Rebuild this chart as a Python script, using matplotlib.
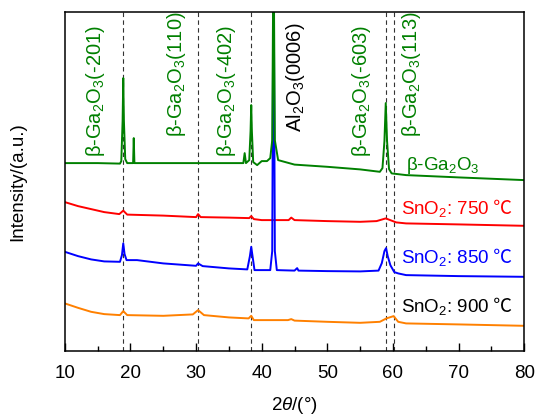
"""
XRD patterns: beta-Ga2O3 reference and SnO2 films annealed at 750/850/900 C
output: out.png
"""
import matplotlib
matplotlib.use("Agg")
import matplotlib.pyplot as plt

plt.rcParams["font.family"] = ["Liberation Sans", "DejaVu Sans"]
plt.rcParams["mathtext.fontset"] = "custom"
plt.rcParams["mathtext.rm"] = "Liberation Sans"
plt.rcParams["mathtext.it"] = "Liberation Sans:italic"

# 2theta / intensity points (arbitrary units, stacked)
x_ga = [10, 12, 15, 18.4, 18.6, 18.8, 18.9, 19.0, 19.2, 19.5, 20.4, 20.5, 20.6, 25, 30, 35,
        37.2, 37.4, 37.6, 38.1, 38.3, 38.4, 38.5, 38.7, 39.3, 40.0, 40.8, 41.3, 41.6, 41.8,
        42.0, 42.5, 45, 50, 55, 58.0, 58.4, 58.7, 58.9, 59.1, 59.4, 59.8, 62, 70, 80]
y_ga = [188, 188, 188, 187.5, 190, 230, 273, 230, 192, 188, 188, 213, 188, 188, 188, 188,
        188, 198, 188, 191, 220, 246, 220, 189, 186, 190, 190, 193, 211, 420,
        211, 191, 186.5, 184.3, 181.7, 179.3, 183, 210, 248, 210, 182, 177.7, 176, 173.7, 171]

x_750 = [10, 12, 14, 16, 18.3, 18.9, 19.5, 25, 30, 30.3, 30.7, 35, 38.1, 38.4, 38.8, 40,
         42, 44.1, 44.5, 45.0, 50, 55, 57.5, 58.9, 60.5, 62, 70, 80]
y_750 = [149, 145, 142, 139, 137, 140.5, 136.5, 135.5, 134, 137, 134, 133.5, 133, 135, 132, 131,
         131, 131, 133.5, 131, 130, 129.3, 130, 132.7, 128.7, 127.7, 126.7, 125.3]

x_850 = [10, 12, 14, 16, 18.4, 18.7, 18.9, 19.1, 19.4, 21, 25, 30, 30.3, 31, 35, 37.8,
         38.2, 38.4, 38.6, 38.9, 41.3, 41.6, 41.8, 42.0, 42.3, 45, 45.4, 45.6, 50, 55,
         57.8, 58.3, 58.7, 58.95, 59.2, 59.6, 60.2, 60.8, 62, 70, 80]
y_850 = [99.3, 95, 91.7, 89.7, 89.3, 96, 107.7, 97, 91, 91, 87.7, 85.3, 87.7, 85, 82.7, 81.7,
         95, 104.3, 95, 81, 81, 100, 420, 100, 81, 80.5, 83, 80.5, 80, 79.7,
         80.5, 88, 100, 103, 95, 86, 79, 77.7, 76, 75, 74.3]

x_900 = [10, 12, 14, 16, 18.4, 18.9, 19.5, 25, 29.5, 30.3, 31.2, 35, 38, 38.4, 38.8, 44,
         44.5, 45, 50, 55, 58, 59, 60.1, 60.8, 62, 70, 80]
y_900 = [47.7, 43.3, 39.3, 37, 36, 40, 36, 35.3, 36.7, 41, 36, 33.7, 32.7, 35.3, 31, 31,
         32, 30.5, 29.3, 28.3, 29.3, 32.7, 35, 29.3, 27.7, 26.7, 25.3]

peak_pos = [18.9, 30.3, 38.4, 58.95, 60.1]
hkl_labels = ["β-Ga$_2$O$_3$(-201)", "β-Ga$_2$O$_3$(110)", "β-Ga$_2$O$_3$(-402)",
              "Al$_2$O$_3$(0006)", "β-Ga$_2$O$_3$(-603)", "β-Ga$_2$O$_3$(113)"]
hkl_x = [14.6, 27.0, 34.7, 45.2, 55.2, 62.9]
hkl_y = [194, 214, 194, 219, 194, 214]
hkl_colors = ["#008000", "#008000", "#008000", "black", "#008000", "#008000"]

series = [(x_900, y_900, "#ff8000"), (x_750, y_750, "#ff0000"),
          (x_850, y_850, "#0000ff"), (x_ga, y_ga, "#008000")]
sample_labels = ["β-Ga$_2$O$_3$", "SnO$_2$: 750", "SnO$_2$: 850", "SnO$_2$: 900"]
sample_y = [186, 142, 93, 44]
sample_colors = ["#008000", "#ff0000", "#0000ff", "black"]

fig = plt.figure(figsize=(5.36, 4.17), dpi=100)
ax = fig.add_axes([0.121, 0.158, 0.857, 0.813])

for xs, ys, c in series:
    ax.plot(xs, ys, color=c, lw=1.4)

for p in peak_pos:
    ax.axvline(p, color="#333333", lw=0.8, ls=(0, (4, 3)), zorder=0)

for t, xx, yy, c in zip(hkl_labels, hkl_x, hkl_y, hkl_colors):
    ax.text(xx, yy, t, rotation=90, ha="center", va="bottom", color=c, fontsize=14.5)

for i, (t, yy, c) in enumerate(zip(sample_labels, sample_y, sample_colors)):
    xx = 62.0 if i == 0 else 61.2
    txt = ax.text(xx, yy, t, ha="left", va="center", color=c, fontsize=13.5)
    if i > 0:
        ax.annotate(" ℃", xy=(1, 0.55), xycoords=txt, ha="left", va="center",
                    color=c, fontsize=13.5, family=["Noto Sans CJK SC", "DejaVu Sans"])

ax.set_xlim(10, 80)
ax.set_ylim(0, 339)
ax.set_xticks(range(10, 81, 10))
ax.set_xticks(range(15, 80, 10), minor=True)
ax.set_yticks([])
ax.tick_params(axis="x", which="major", direction="in", length=6, width=1, labelsize=13.5, pad=10)
ax.tick_params(axis="x", which="minor", direction="in", length=3.5, width=1)
for s in ax.spines.values():
    s.set_linewidth(1.1)
ax.set_xlabel("2$\\mathit{θ}$/(°)", fontsize=13.5, labelpad=9)
ax.set_ylabel("Intensity/(a.u.)", fontsize=13.5, labelpad=28)

fig.savefig("out.png", dpi=100)
